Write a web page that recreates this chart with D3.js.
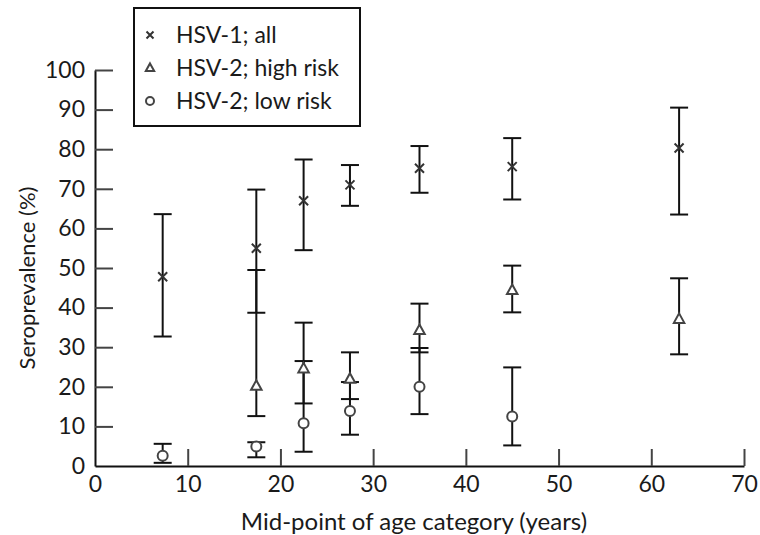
<!DOCTYPE html>
<html>
<head>
<meta charset="utf-8">
<script src="https://cdn.jsdelivr.net/npm/d3@7"></script>
<style>
  html, body { margin: 0; padding: 0; background: #fff; }
  svg { display: block; }
  text { font-family: Lato, "Open Sans", sans-serif; fill: #1a1a1a; }
</style>
</head>
<body>
<svg id="chart" width="760" height="535"></svg>
<script>
// ---- data ----
const hsv1Ages = [7.3, 17.4, 22.5, 27.5, 35, 45, 63];
const hsv1Val  = [47.8, 55.0, 67.0, 71.0, 75.2, 75.6, 80.3];
const hsv1Lo   = [32.7, 38.7, 54.5, 65.7, 69.0, 67.3, 63.5];
const hsv1Hi   = [63.6, 69.8, 77.4, 76.0, 80.8, 82.8, 90.5];

const highAges = [17.4, 22.5, 27.5, 35, 45, 63];
const highVal  = [20.2, 24.6, 22.0, 34.3, 44.4, 37.1];
const highLo   = [12.6, 15.8, 16.9, 28.7, 38.8, 28.2];
const highHi   = [49.5, 36.2, 28.7, 41.0, 50.6, 47.4];

const lowAges  = [7.3, 17.4, 22.5, 27.5, 35, 45];
const lowVal   = [2.6, 4.9, 10.8, 13.9, 20.0, 12.5];
const lowLo    = [0.8, 2.2, 3.6, 7.9, 13.1, 5.2];
const lowHi    = [5.6, 6.0, 26.5, 21.2, 29.8, 24.9];

const xTicks = [0, 10, 20, 30, 40, 50, 60, 70];
const yTicks = [0, 10, 20, 30, 40, 50, 60, 70, 80, 90, 100];

const legendLabels = ["HSV-1; all", "HSV-2; high risk", "HSV-2; low risk"];

// ---- layout ----
const svg = d3.select("#chart");
const x = d3.scaleLinear().domain([0, 70]).range([95, 744]);
const y = d3.scaleLinear().domain([0, 100]).range([466, 70]);

const series = [
  { ages: hsv1Ages, val: hsv1Val, lo: hsv1Lo, hi: hsv1Hi, shape: "cross" },
  { ages: highAges, val: highVal, lo: highLo, hi: highHi, shape: "tri" },
  { ages: lowAges,  val: lowVal,  lo: lowLo,  hi: lowHi,  shape: "circ" }
];

// axes
const xAxis = d3.axisBottom(x).tickValues(xTicks).tickSizeInner(-17).tickSizeOuter(0).tickPadding(10);
const yAxis = d3.axisLeft(y).tickValues(yTicks).tickSizeInner(-18).tickSizeOuter(0).tickPadding(10);

const gx = svg.append("g").attr("transform", `translate(0,${y(0)})`).call(xAxis);
const gy = svg.append("g").attr("transform", `translate(${x(0)},0)`).call(yAxis);
[gx, gy].forEach(g => {
  g.select(".domain").attr("stroke", "#111").attr("stroke-width", 2);
  g.selectAll(".tick line").attr("stroke", "#444").attr("stroke-width", 2);
  g.selectAll(".tick text").style("font-family", "Lato, sans-serif").style("font-size", "23px").attr("fill", "#1a1a1a");
});
gx.selectAll(".tick").filter(d => d === 0).select("line").remove();
gy.selectAll(".tick").filter(d => d === 0).select("line").remove();

// axis titles
svg.append("text").attr("x", 414).attr("y", 530)
  .attr("text-anchor", "middle").style("font-size", "24px")
  .text("Mid-point of age category (years)");
svg.append("text").attr("transform", `translate(35,${(y(0) + y(100)) / 2 + 10}) rotate(-90)`)
  .attr("text-anchor", "middle").style("font-size", "22px")
  .text("Seroprevalence (%)");

// error bars
const capW = 9;
const eb = svg.append("g").attr("stroke", "#111").attr("stroke-width", 2).attr("fill", "none");
series.forEach(s => {
  s.ages.forEach((a, i) => {
    const cx = x(a);
    eb.append("line").attr("x1", cx).attr("x2", cx).attr("y1", y(s.lo[i])).attr("y2", y(s.hi[i]));
    eb.append("line").attr("x1", cx - capW).attr("x2", cx + capW).attr("y1", y(s.lo[i])).attr("y2", y(s.lo[i]));
    eb.append("line").attr("x1", cx - capW).attr("x2", cx + capW).attr("y1", y(s.hi[i])).attr("y2", y(s.hi[i]));
  });
});

// markers
function drawMarker(g, shape, cx, cy, r) {
  if (shape === "cross") {
    g.append("path")
      .attr("d", `M${cx - r},${cy - r}L${cx + r},${cy + r}M${cx - r},${cy + r}L${cx + r},${cy - r}`)
      .attr("stroke", "#333").attr("stroke-width", 2).attr("fill", "none");
  } else if (shape === "tri") {
    const h = r * 1.9;
    g.append("path")
      .attr("d", `M${cx},${cy - h * 0.6}L${cx + r * 1.05},${cy + h * 0.4}L${cx - r * 1.05},${cy + h * 0.4}Z`)
      .attr("stroke", "#444").attr("stroke-width", 2).attr("fill", "#fff");
  } else {
    g.append("circle").attr("cx", cx).attr("cy", cy).attr("r", r)
      .attr("stroke", "#444").attr("stroke-width", 2).attr("fill", "#fff");
  }
}
const mk = svg.append("g");
series.forEach(s => {
  s.ages.forEach((a, i) => drawMarker(mk, s.shape, x(a), y(s.val[i]), s.shape === "cross" ? 4.5 : 5));
});

// legend
const lg = svg.append("g");
lg.append("rect").attr("x", 134).attr("y", 8).attr("width", 226).attr("height", 118)
  .attr("fill", "#fff").attr("stroke", "#111").attr("stroke-width", 2);
legendLabels.forEach((lab, i) => {
  const cy = 35 + i * 33;
  drawMarker(lg, series[i].shape, 150, cy, series[i].shape === "cross" ? 3.5 : 4);
  lg.append("text").attr("x", 176).attr("y", cy + 8).style("font-size", "23px").text(lab);
});
</script>
</body>
</html>
